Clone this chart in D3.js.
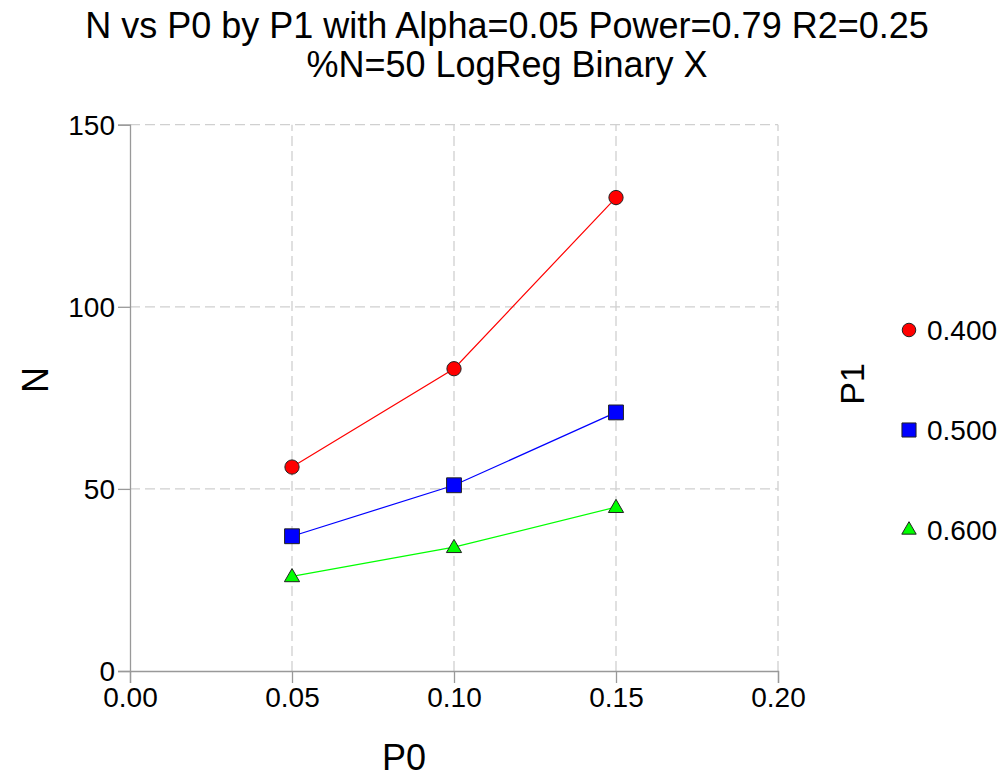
<!DOCTYPE html>
<html><head><meta charset="utf-8">
<script src="https://cdn.jsdelivr.net/npm/d3@7"></script>
<style>body{margin:0;background:#fff}text{font-family:"Liberation Sans",Arial,sans-serif;fill:#000}</style>
</head><body><svg id="c" width="1007" height="779"></svg>
<script>
const xValues = [0.05, 0.10, 0.15];
const seriesNames = ["0.400", "0.500", "0.600"];
const seriesN = [
  [56, 83, 130],
  [37, 51, 71],
  [26, 34, 45]
];
const seriesColors = ["#ff0000", "#0000ff", "#00ff00"];
const seriesSymbols = ["circle", "square", "triangle"];
const xTicks = [0.00, 0.05, 0.10, 0.15, 0.20];
const yTicks = [0, 50, 100, 150];
const titleLines = ["N vs P0 by P1 with Alpha=0.05 Power=0.79 R2=0.25", "%N=50 LogReg Binary X"];

const svg = d3.select("#c");
const x = d3.scaleLinear().domain([0, 0.20]).range([130, 778]);
const y = d3.scaleLinear().domain([0, 150]).range([671, 124.7]);

// grid
svg.append("g").selectAll("line").data(xTicks.slice(1)).join("line")
  .attr("x1", d => x(d)).attr("x2", d => x(d)).attr("y1", y(0)).attr("y2", y(150))
  .attr("stroke", "#d0d0d0").attr("stroke-width", 1.3).attr("stroke-dasharray", "10,5");
svg.append("g").selectAll("line").data(yTicks.slice(1)).join("line")
  .attr("y1", d => y(d)).attr("y2", d => y(d)).attr("x1", x(0)).attr("x2", x(0.20))
  .attr("stroke", "#d0d0d0").attr("stroke-width", 1.3).attr("stroke-dasharray", "10,5");

// axes
const xAxis = d3.axisBottom(x).tickValues(xTicks).tickFormat(d3.format(".2f")).tickSize(12).tickPadding(4);
const yAxis = d3.axisLeft(y).tickValues(yTicks).tickFormat(d3.format("d")).tickSize(12).tickPadding(3);
const gx = svg.append("g").attr("transform", `translate(0,${y(0)})`).call(xAxis);
const gy = svg.append("g").attr("transform", `translate(${x(0)},0)`).call(yAxis);
[gx, gy].forEach(g => {
  g.select(".domain").attr("stroke", "#999").attr("stroke-width", 1.3);
  g.selectAll(".tick line").attr("stroke", "#999").attr("stroke-width", 1.3);
  g.selectAll(".tick text").attr("font-size", 28).attr("font-family", "Liberation Sans, Arial, sans-serif").attr("fill", "#000");
});
gy.selectAll(".tick text").attr("dy", "0.35em");

// lines and markers
const line = d3.line().x((d, i) => x(xValues[i])).y(d => y(d));
const symMap = {circle: d3.symbolCircle, square: d3.symbolSquare, triangle: d3.symbolTriangle};
const symSize = {circle: 160, square: 220, triangle: 100};
const symShift = {circle: 0, square: 0, triangle: 1};
seriesN.forEach((vals, s) => {
  svg.append("path").attr("d", line(vals)).attr("fill", "none").attr("stroke", seriesColors[s]).attr("stroke-width", 1.2);
});
seriesN.forEach((vals, s) => {
  svg.append("g").selectAll("path").data(vals).join("path")
    .attr("transform", (d, i) => `translate(${x(xValues[i])},${y(d) + symShift[seriesSymbols[s]]})`)
    .attr("d", d3.symbol().type(symMap[seriesSymbols[s]]).size(symSize[seriesSymbols[s]]))
    .attr("fill", seriesColors[s]).attr("stroke", "#222").attr("stroke-width", 1);
});

// legend
const legY = [330, 430, 530];
seriesNames.forEach((nm, s) => {
  svg.append("path").attr("transform", `translate(909,${legY[s]})`)
    .attr("d", d3.symbol().type(symMap[seriesSymbols[s]]).size(symSize[seriesSymbols[s]]*0.9))
    .attr("fill", seriesColors[s]).attr("stroke", "#222").attr("stroke-width", 1);
  svg.append("text").attr("x", 927).attr("y", legY[s]).attr("dy", "0.35em").attr("font-size", 28).text(nm);
});
svg.append("text").attr("transform", "translate(852,384) rotate(-90)").attr("text-anchor", "middle").attr("dy", "0.35em").attr("font-size", 34).text("P1");

// axis titles
svg.append("text").attr("x", 404).attr("y", 757).attr("text-anchor", "middle").attr("dy", "0.35em").attr("font-size", 36).text("P0");
svg.append("text").attr("transform", "translate(35,380) rotate(-90)").attr("text-anchor", "middle").attr("dy", "0.35em").attr("font-size", 36).text("N");

// title
titleLines.forEach((t, i) => {
  svg.append("text").attr("x", 507).attr("y", 25 + i * 39).attr("text-anchor", "middle").attr("dy", "0.35em").attr("font-size", 36).text(t);
});
</script></body></html>
